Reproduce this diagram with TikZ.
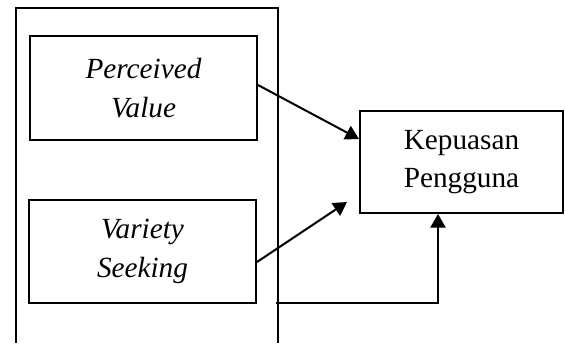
\documentclass[tikz,border=0pt]{standalone}
\usepackage{fontspec}
\setmainfont{Liberation Serif}
\usetikzlibrary{arrows.meta,calc}

\begin{document}
\begin{tikzpicture}[x=0.4pt, y=-0.4pt, line width=0.8pt,
    var/.style={draw, align=center, inner sep=0pt, font=\fontsize{11.7}{15.4}\selectfont},
    arr/.style={-{Triangle[length=5.4pt, width=6pt]}}]

\useasboundingbox (0,0) rectangle (565,343);

% Outer frame (open at the bottom)
\draw (16,343) -- (16,8) -- (278,8) -- (278,343);

% Independent variables
\node[var, minimum width=90.8pt, minimum height=41.6pt] (pv) at (143.5,88) {\itshape Perceived\\\itshape Value};
\node[var, minimum width=90.8pt, minimum height=41.2pt] (vs) at (142.5,251.5) {\itshape Variety\\\itshape Seeking};

% Dependent variable
\node[var, minimum width=81.2pt, minimum height=40.8pt] (kp) at (461.5,162) {Kepuasan\\Pengguna};

% Free ends
\coordinate (vsend) at (347,202);
\coordinate (frame) at (276,303);

% Arrows
\draw[arr] ($(pv.east)+(0,-3)$) -- ($(kp.west)+(0,-23)$);
\draw[arr] ($(vs.east)+(0,10.5)$) -- (vsend);
\draw[arr] (frame) -| ($(kp.south)+(-23.5,0)$);

\end{tikzpicture}
\end{document}
